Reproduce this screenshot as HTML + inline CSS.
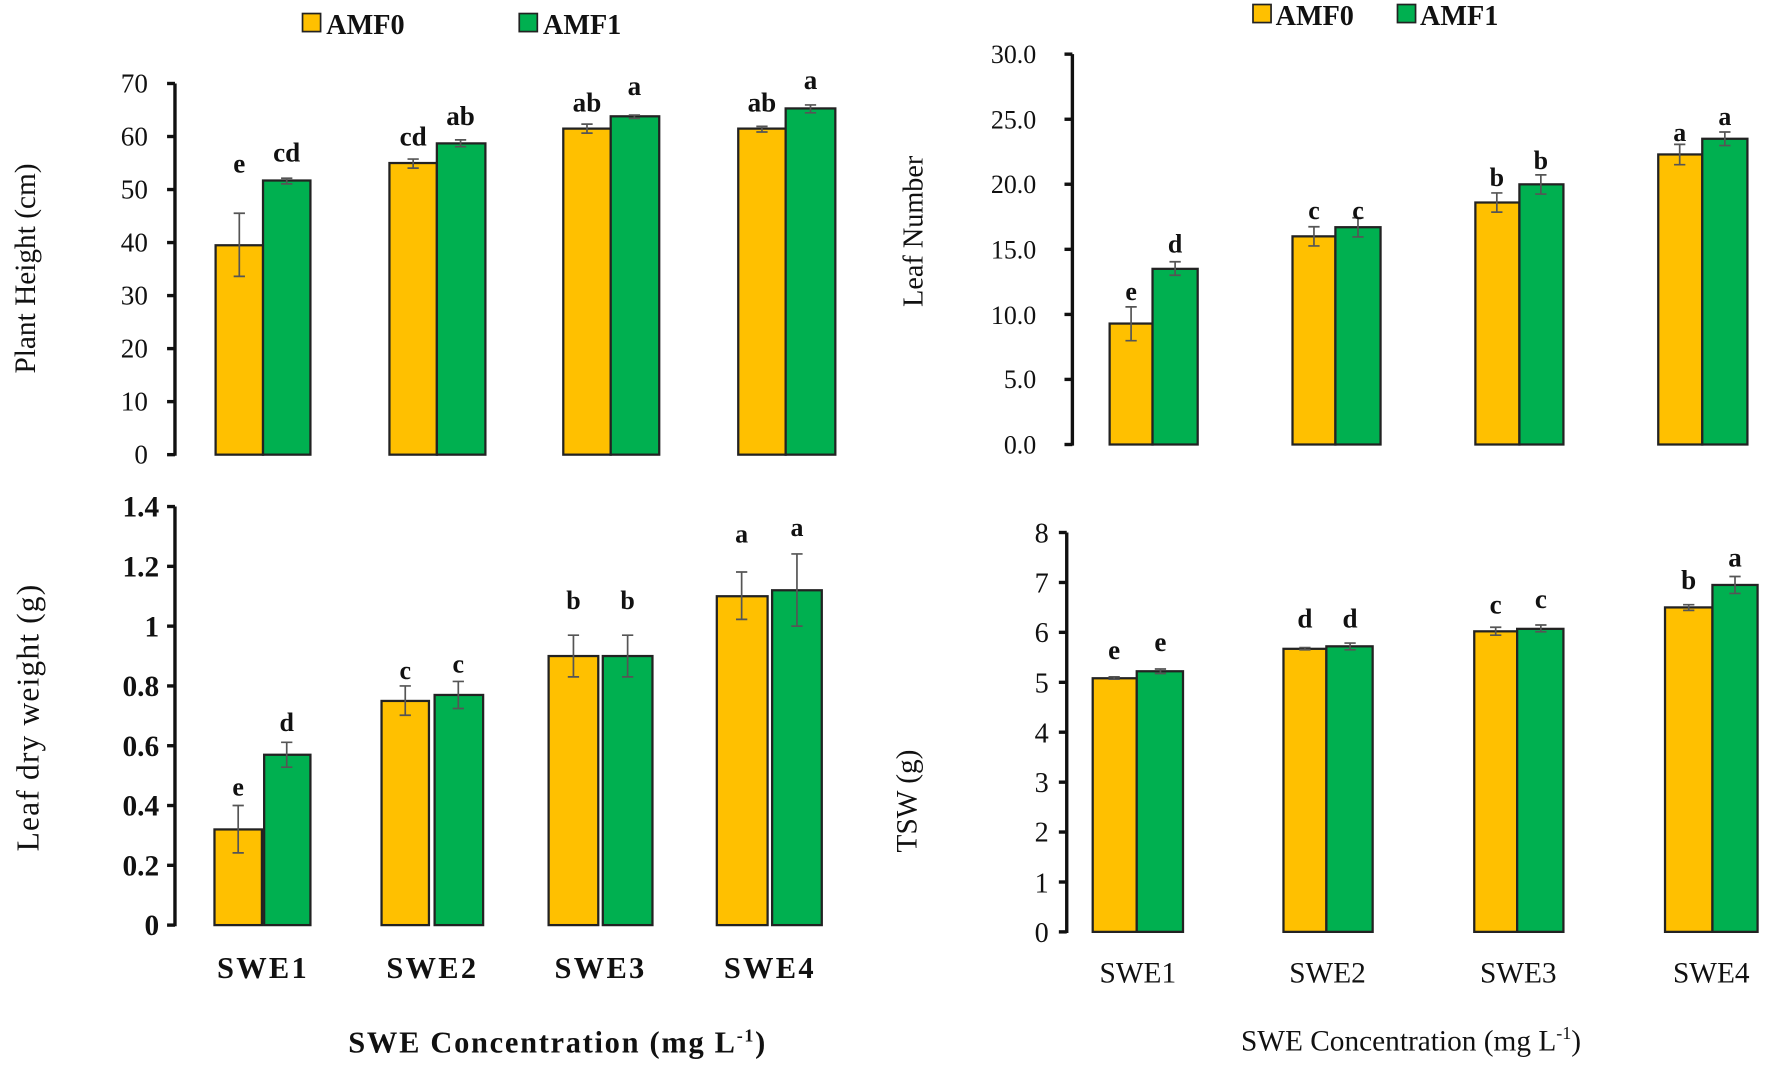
<!DOCTYPE html>
<html><head><meta charset="utf-8"><style>html,body{margin:0;padding:0;background:#fff}svg{display:block}</style></head>
<body>
<svg width="1770" height="1065" viewBox="0 0 1568 944" preserveAspectRatio="none" xmlns="http://www.w3.org/2000/svg" font-family="'Liberation Serif', serif">
<g stroke="#222" stroke-width="1.5">
<rect x="268" y="12" width="16" height="16" fill="#FFC000"/>
<rect x="460" y="12" width="16" height="16" fill="#00B050"/>
<rect x="1110" y="4" width="16" height="16" fill="#FFC000"/>
<rect x="1238" y="4" width="16" height="16" fill="#00B050"/>
</g>
<g font-size="25" font-weight="bold" fill="#111">
<text x="289" y="30">AMF0</text><text x="481" y="30">AMF1</text>
<text x="1130" y="22">AMF0</text><text x="1258" y="22">AMF1</text>
</g>

<!-- TL chart -->
<g stroke="#111" stroke-width="3">
<line x1="155" y1="74" x2="155" y2="404"/>
<line x1="148" y1="74" x2="155" y2="74"/><line x1="148" y1="121" x2="155" y2="121"/><line x1="148" y1="168" x2="155" y2="168"/><line x1="148" y1="215" x2="155" y2="215"/><line x1="148" y1="262" x2="155" y2="262"/><line x1="148" y1="309" x2="155" y2="309"/><line x1="148" y1="356" x2="155" y2="356"/><line x1="148" y1="403" x2="155" y2="403"/>
</g>
<g font-size="24" text-anchor="end" fill="#111">
<text x="131" y="82">70</text><text x="131" y="129">60</text><text x="131" y="176">50</text><text x="131" y="223">40</text><text x="131" y="270">30</text><text x="131" y="317">20</text><text x="131" y="364">10</text><text x="131" y="411">0</text>
</g>
<text transform="translate(31,238) rotate(-90)" font-size="26" text-anchor="middle" fill="#111">Plant Height (cm)</text>
<g stroke="#222" stroke-width="2">
<rect x="191" y="217.4" width="42" height="185.6" fill="#FFC000"/><rect x="233" y="160" width="42" height="243" fill="#00B050"/>
<rect x="345" y="144.5" width="42" height="258.5" fill="#FFC000"/><rect x="387" y="127.1" width="43" height="275.9" fill="#00B050"/>
<rect x="499" y="114" width="42" height="289" fill="#FFC000"/><rect x="541" y="103.1" width="43" height="299.9" fill="#00B050"/>
<rect x="654" y="114" width="42" height="289" fill="#FFC000"/><rect x="696" y="96.1" width="44" height="306.9" fill="#00B050"/>
</g>
<g stroke="#555" stroke-width="1.5" fill="none">
<path d="M212 189v56M207 189h10M207 245h10"/>
<path d="M254 158v5M249 158h10M249 163h10"/>
<path d="M366 141v8M361 141h10M361 149h10"/>
<path d="M408 124v6M403 124h10M403 130h10"/>
<path d="M520 110v8M515 110h10M515 118h10"/>
<path d="M562 102v3M557 102h10M557 105h10"/>
<path d="M675 112v5M670 112h10M670 117h10"/>
<path d="M718 93v7M713 93h10M713 100h10"/>
</g>
<g font-size="24" font-weight="bold" text-anchor="middle" fill="#111">
<text x="212" y="153">e</text><text x="254" y="143">cd</text>
<text x="366" y="129">cd</text><text x="408" y="111">ab</text>
<text x="520" y="99">ab</text><text x="562" y="84">a</text>
<text x="675" y="99">ab</text><text x="718" y="79">a</text>
</g>

<!-- TR chart -->
<g stroke="#111" stroke-width="3">
<line x1="950" y1="48" x2="950" y2="395"/>
<line x1="943" y1="48" x2="950" y2="48"/><line x1="943" y1="105.7" x2="950" y2="105.7"/><line x1="943" y1="163.3" x2="950" y2="163.3"/><line x1="943" y1="221" x2="950" y2="221"/><line x1="943" y1="278.7" x2="950" y2="278.7"/><line x1="943" y1="336.3" x2="950" y2="336.3"/><line x1="943" y1="394" x2="950" y2="394"/>
</g>
<g font-size="23" text-anchor="end" fill="#111">
<text x="918" y="56">30.0</text><text x="918" y="114">25.0</text><text x="918" y="171">20.0</text><text x="918" y="229">15.0</text><text x="918" y="287">10.0</text><text x="918" y="344">5.0</text><text x="918" y="402">0.0</text>
</g>
<text transform="translate(817,205) rotate(-90)" font-size="25" text-anchor="middle" fill="#111">Leaf Number</text>
<g stroke="#222" stroke-width="2">
<rect x="983" y="286.8" width="38" height="107.2" fill="#FFC000"/><rect x="1021" y="238.3" width="40" height="155.7" fill="#00B050"/>
<rect x="1145" y="209.5" width="38" height="184.5" fill="#FFC000"/><rect x="1183" y="201.4" width="40" height="192.6" fill="#00B050"/>
<rect x="1307" y="179.5" width="39" height="214.5" fill="#FFC000"/><rect x="1346" y="163.4" width="39" height="230.6" fill="#00B050"/>
<rect x="1469" y="136.9" width="39" height="257.1" fill="#FFC000"/><rect x="1508" y="123" width="40" height="271" fill="#00B050"/>
</g>
<g stroke="#555" stroke-width="1.5" fill="none">
<path d="M1002 272v30M997 272h10M997 302h10"/>
<path d="M1041 232v12M1036 232h10M1036 244h10"/>
<path d="M1164 201v17M1159 201h10M1159 218h10"/>
<path d="M1203 193v17M1198 193h10M1198 210h10"/>
<path d="M1326 171v17M1321 171h10M1321 188h10"/>
<path d="M1365 155v17M1360 155h10M1360 172h10"/>
<path d="M1488 128v18M1483 128h10M1483 146h10"/>
<path d="M1528 117v12M1523 117h10M1523 129h10"/>
</g>
<g font-size="23" font-weight="bold" text-anchor="middle" fill="#111">
<text x="1002" y="266">e</text><text x="1041" y="224">d</text>
<text x="1164" y="194">c</text><text x="1203" y="194">c</text>
<text x="1326" y="165">b</text><text x="1365" y="150">b</text>
<text x="1488" y="125">a</text><text x="1528" y="111">a</text>
</g>

<!-- BL chart -->
<g stroke="#111" stroke-width="3">
<line x1="155" y1="449" x2="155" y2="821"/>
<line x1="148" y1="449" x2="155" y2="449"/><line x1="148" y1="502" x2="155" y2="502"/><line x1="148" y1="555" x2="155" y2="555"/><line x1="148" y1="608" x2="155" y2="608"/><line x1="148" y1="661" x2="155" y2="661"/><line x1="148" y1="714" x2="155" y2="714"/><line x1="148" y1="767" x2="155" y2="767"/><line x1="148" y1="820" x2="155" y2="820"/>
</g>
<g font-size="26" font-weight="bold" text-anchor="end" fill="#111">
<text x="141" y="458">1.4</text><text x="141" y="511">1.2</text><text x="141" y="564">1</text><text x="141" y="617">0.8</text><text x="141" y="670">0.6</text><text x="141" y="723">0.4</text><text x="141" y="776">0.2</text><text x="141" y="829">0</text>
</g>
<text transform="translate(34,636) rotate(-90)" font-size="28" text-anchor="middle" fill="#111" letter-spacing="1">Leaf dry weight (g)</text>
<g stroke="#222" stroke-width="2">
<rect x="190" y="735.2" width="42" height="84.8" fill="#FFC000"/><rect x="234" y="669" width="41" height="151" fill="#00B050"/>
<rect x="338" y="621.3" width="42" height="198.7" fill="#FFC000"/><rect x="385" y="616" width="43" height="204" fill="#00B050"/>
<rect x="486" y="581.5" width="44" height="238.5" fill="#FFC000"/><rect x="534" y="581.5" width="44" height="238.5" fill="#00B050"/>
<rect x="635" y="528.5" width="45" height="291.5" fill="#FFC000"/><rect x="684" y="523.2" width="44" height="296.8" fill="#00B050"/>
</g>
<g stroke="#555" stroke-width="1.5" fill="none">
<path d="M211 714v42M206 714h10M206 756h10"/>
<path d="M254 658v22M249 658h10M249 680h10"/>
<path d="M359 608v26M354 608h10M354 634h10"/>
<path d="M406 604v24M401 604h10M401 628h10"/>
<path d="M508 563v37M503 563h10M503 600h10"/>
<path d="M556 563v37M551 563h10M551 600h10"/>
<path d="M657 507v42M652 507h10M652 549h10"/>
<path d="M706 491v64M701 491h10M701 555h10"/>
</g>
<g font-size="23" font-weight="bold" text-anchor="middle" fill="#111">
<text x="211" y="705">e</text><text x="254" y="648">d</text>
<text x="359" y="602">c</text><text x="406" y="596">c</text>
<text x="508" y="540">b</text><text x="556" y="540">b</text>
<text x="657" y="481">a</text><text x="706" y="475">a</text>
</g>
<g font-size="27" font-weight="bold" text-anchor="middle" fill="#111" letter-spacing="2">
<text x="233" y="867">SWE1</text><text x="383" y="867">SWE2</text><text x="532" y="867">SWE3</text><text x="682" y="867">SWE4</text>
<text x="494" y="933" letter-spacing="1.5">SWE Concentration (mg L<tspan font-size="16" dy="-10">-1</tspan><tspan dy="10">)</tspan></text>
</g>

<!-- BR chart -->
<g stroke="#111" stroke-width="3">
<line x1="945" y1="472" x2="945" y2="827"/>
<line x1="938" y1="472" x2="945" y2="472"/><line x1="938" y1="516.3" x2="945" y2="516.3"/><line x1="938" y1="560.5" x2="945" y2="560.5"/><line x1="938" y1="604.8" x2="945" y2="604.8"/><line x1="938" y1="649" x2="945" y2="649"/><line x1="938" y1="693.3" x2="945" y2="693.3"/><line x1="938" y1="737.5" x2="945" y2="737.5"/><line x1="938" y1="781.8" x2="945" y2="781.8"/><line x1="938" y1="826" x2="945" y2="826"/>
</g>
<g font-size="25" text-anchor="end" fill="#111">
<text x="929" y="481">8</text><text x="929" y="525">7</text><text x="929" y="569">6</text><text x="929" y="614">5</text><text x="929" y="658">4</text><text x="929" y="702">3</text><text x="929" y="746">2</text><text x="929" y="791">1</text><text x="929" y="835">0</text>
</g>
<text transform="translate(812,710) rotate(-90)" font-size="26" text-anchor="middle" fill="#111">TSW (g)</text>
<g stroke="#222" stroke-width="2">
<rect x="968" y="601.2" width="39" height="224.8" fill="#FFC000"/><rect x="1007" y="595" width="41" height="231" fill="#00B050"/>
<rect x="1137" y="575.1" width="38" height="250.9" fill="#FFC000"/><rect x="1175" y="572.9" width="41" height="253.1" fill="#00B050"/>
<rect x="1306" y="559.6" width="38" height="266.4" fill="#FFC000"/><rect x="1344" y="557.4" width="41" height="268.6" fill="#00B050"/>
<rect x="1475" y="538.4" width="42" height="287.6" fill="#FFC000"/><rect x="1517" y="518.5" width="40" height="307.5" fill="#00B050"/>
</g>
<g stroke="#555" stroke-width="1.5" fill="none">
<path d="M987 600v2M982 600h10M982 602h10"/>
<path d="M1028 593v4M1023 593h10M1023 597h10"/>
<path d="M1156 574v2M1151 574h10M1151 576h10"/>
<path d="M1196 570v6M1191 570h10M1191 576h10"/>
<path d="M1325 556v7M1320 556h10M1320 563h10"/>
<path d="M1365 554v6M1360 554h10M1360 560h10"/>
<path d="M1496 536v5M1491 536h10M1491 541h10"/>
<path d="M1537 511v15M1532 511h10M1532 526h10"/>
</g>
<g font-size="24" font-weight="bold" text-anchor="middle" fill="#111">
<text x="987" y="584">e</text><text x="1028" y="577">e</text>
<text x="1156" y="556">d</text><text x="1196" y="556">d</text>
<text x="1325" y="544">c</text><text x="1365" y="539">c</text>
<text x="1496" y="522">b</text><text x="1537" y="502">a</text>
</g>
<g font-size="26" text-anchor="middle" fill="#111">
<text x="1008" y="871">SWE1</text><text x="1176" y="871">SWE2</text><text x="1345" y="871">SWE3</text><text x="1516" y="871">SWE4</text>
<text x="1250" y="931">SWE Concentration (mg L<tspan font-size="16" dy="-10">-1</tspan><tspan dy="10">)</tspan></text>
</g>
</svg>
</body></html>
